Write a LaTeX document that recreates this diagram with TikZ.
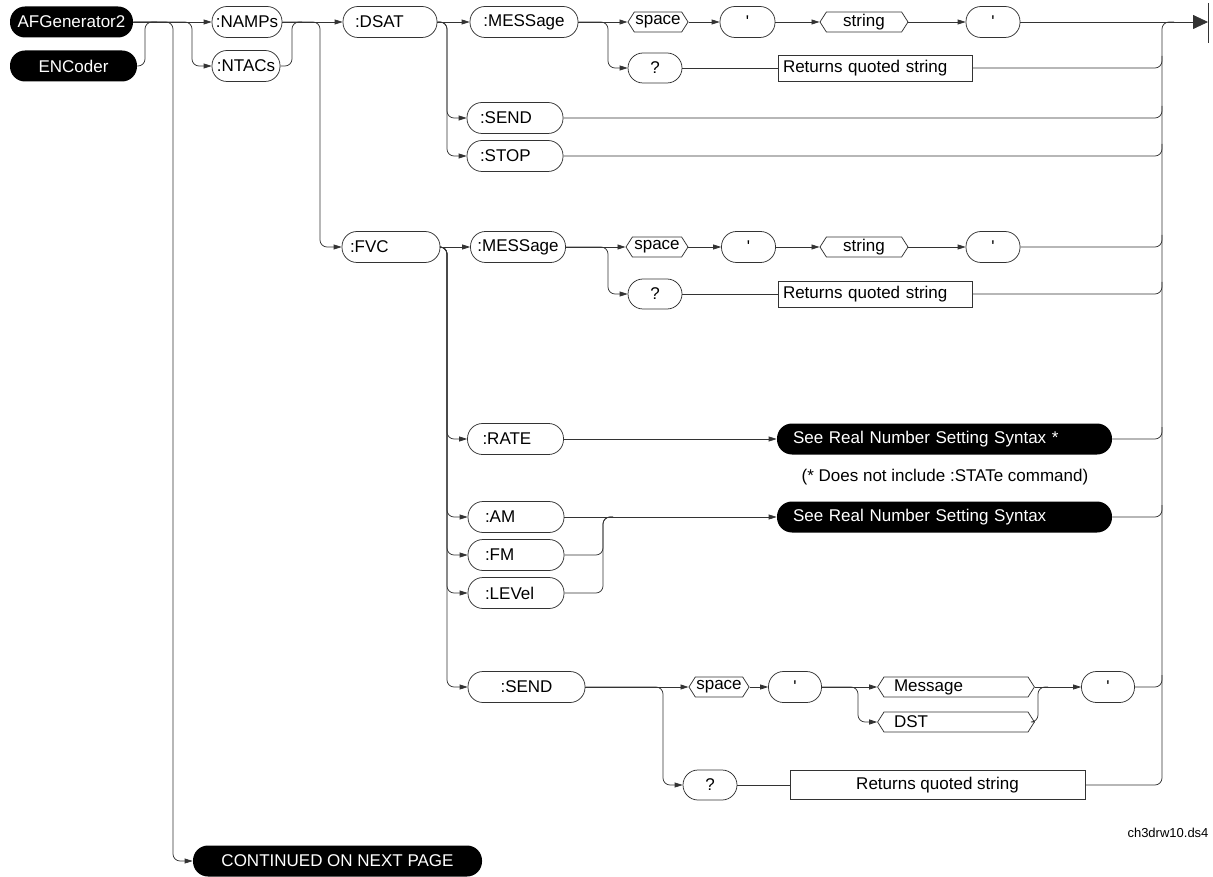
\documentclass[tikz,border=0pt]{standalone}
\usepackage{fontspec}
\newfontfamily\hp{Liberation Sans}
\usetikzlibrary{arrows.meta,shapes.symbols,calc}
\begin{document}
\begin{tikzpicture}[x=1pt,y=-1pt,
  font=\hp\fontsize{17}{19}\selectfont,
  line width=0.75pt,
  conn/.style={draw=black!80, line width=0.75pt, rounded corners=7pt},
  arr/.style={conn, -{Triangle[length=8pt,width=5pt]}},
  kw/.style={draw=black!80, line width=0.75pt, rounded corners=15pt, minimum height=31pt, inner ysep=0pt, inner xsep=4pt},
  kwl/.style={kw, text width=#1, align=left, inner xsep=12pt},
  term/.style={fill=black, text=white, rounded corners=15pt, minimum height=31pt, inner ysep=0pt, inner xsep=4pt},
  hex/.style={draw=black!80, line width=0.75pt, signal, signal to=west and east, signal pointer angle=115,
              minimum height=20pt, inner ysep=0pt, inner xsep=1pt},
  hexl/.style={hex, text width=#1, align=left, inner xsep=10pt},
  retbox/.style={draw=black!80, line width=0.75pt, minimum height=26pt, inner ysep=0pt}]
\useasboundingbox (0,0) rectangle (1213,877);

% ---- bus positions ----
\coordinate (bE) at (145,0);
\coordinate (bA) at (173,0);
\coordinate (bN) at (192,0);
\coordinate (bT) at (292,0);
\coordinate (bF) at (320,0);
\coordinate (bD) at (447,0);
\coordinate (bM) at (603,0);
\coordinate (bQ) at (608,0);
\coordinate (bS) at (663,0);
\coordinate (bX) at (858,0);
\coordinate (bY) at (1038,0);
\coordinate (col) at (1162,0);
\coordinate (endc) at (1208,22);
\coordinate (barT) at (1208,3);
\coordinate (barB) at (1208,43);

% ---- root keywords ----
\node[term, minimum width=123pt] (afg) at (71.5,22) {AFGenerator2};
\node[term, minimum width=127pt] (enc) at (73.5,66) {ENCoder};
\node[kw, minimum width=70pt, inner xsep=2pt] (namps) at (247,22) {:NAMPs};
\node[kw, minimum width=68pt, inner xsep=2pt] (ntacs) at (246,66) {:NTACs};
\node[term, minimum width=289pt] (cont) at (337.5,861) {CONTINUED ON NEXT PAGE};

% ---- DSAT subtree ----
\node[kwl=70pt] (dsat) at (390,22) {:DSAT};
\node[kw, minimum width=108pt] (msg1) at (524,22) {:MESSage};
\node[hex, minimum width=60pt] (sp1) at (658,22) {space};
\node[kw, minimum width=55pt] (q1) at (747.5,22) {'};
\node[hex, minimum width=88pt] (str1) at (864,22) {string};
\node[kw, minimum width=54pt] (q2) at (993,22) {'};
\node[kw, minimum width=54pt, minimum height=30pt] (qm1) at (655,68) {?};
\node[retbox, text width=184pt, align=left, inner xsep=5pt] (ret1) at (875,68) {Returns quoted string};
\node[kwl=70pt, inner xsep=13pt] (send1) at (515,118) {:SEND};
\node[kwl=70pt, inner xsep=13pt] (stop1) at (515,156) {:STOP};

% ---- FVC subtree ----
\node[kwl=82pt, inner xsep=8pt] (fvc) at (391,247) {:FVC};
\node[kw, minimum width=95pt] (msg2) at (518,247) {:MESSage};
\node[hex, minimum width=62pt] (sp2) at (657,247) {space};
\node[kw, minimum width=54pt] (q4) at (748.5,247) {'};
\node[hex, minimum width=88pt] (str2) at (864,247) {string};
\node[kw, minimum width=54pt] (q5) at (993,247) {'};
\node[kw, minimum width=54pt, minimum height=30pt] (qm2) at (655,294) {?};
\node[retbox, text width=184pt, align=left, inner xsep=5pt] (ret2) at (875,294) {Returns quoted string};

\node[kwl=66pt, inner xsep=15pt] (rate) at (515.5,439) {:RATE};
\node[term, text width=303pt, align=left, inner xsep=16pt] (rn1) at (944.5,439) {See Real Number Setting Syntax *};
\node (note) at (945,477) {(* Does not include :STATe command)};

\node[kwl=62pt, inner xsep=17pt] (am) at (516,517) {:AM};
\node[kwl=62pt, inner xsep=17pt] (fm) at (516,555) {:FM};
\node[kwl=62pt, inner xsep=17pt] (lev) at (516,593) {:LEVel};
\node[term, text width=303pt, align=left, inner xsep=16pt] (rn2) at (944.5,517) {See Real Number Setting Syntax};

\node[kw, minimum width=117pt] (send2) at (526.5,687) {:SEND};
\node[hex, minimum width=58pt] (sp3) at (719,687) {space};
\node[kw, minimum width=53pt] (q6) at (795,687) {'};
\node[hexl=124pt] (mess) at (956,687) {Message};
\node[hexl=124pt] (dst) at (956,722) {DST};
\node[kw, minimum width=53pt] (q7) at (1108,687) {'};
\node[kw, minimum width=54pt, minimum height=30pt] (qm3) at (710,785) {?};
\node[retbox, minimum width=295pt, minimum height=29pt] (ret3) at (937.5,785) {Returns quoted string};

\node[font=\hp\fontsize{13}{15}\selectfont] (code) at (1168,833) {ch3drw10.ds4};

% ---- root connectors ----
\draw[arr] (afg.east) -- (namps.west);
\draw[arr] (afg.east) -- (afg.east -| bN) -- (ntacs.west -| bN) -- (ntacs.west);
\draw[arr] (afg.east) -- (afg.east -| bA) -- (cont.west -| bA) -- (cont.west);
\draw[conn] (enc.east) -- (enc.east -| bE) -- (afg.east -| bE) -- ($(afg.east -| bE)+(12,0)$);
\draw[conn] (ntacs.east) -- (ntacs.east -| bT) -- (namps.east -| bT) -- ($(namps.east -| bT)+(10,0)$);
\draw[arr] (namps.east) -- (dsat.west);
\draw[arr] (namps.east) -- (namps.east -| bF) -- (fvc.west -| bF) -- (fvc.west);

% ---- DSAT connectors ----
\draw[arr] (dsat.east) -- (msg1.west);
\draw[arr] (dsat.east) -- (dsat.east -| bD) -- (send1.west -| bD) -- (send1.west);
\draw[arr] (dsat.east) -- (dsat.east -| bD) -- (stop1.west -| bD) -- (stop1.west);
\draw[arr] (msg1.east) -- (sp1.west);
\draw[arr] (msg1.east) -- (msg1.east -| bQ) -- (qm1.west -| bQ) -- (qm1.west);
\draw[arr] (sp1.east) -- (q1.west);
\draw[arr] (q1.east) -- (str1.west);
\draw[arr] (str1.east) -- (q2.west);
\draw[conn, -{Triangle[length=15pt,width=14pt]}] (q2.east) -- (endc);
\draw[conn] (barT) -- (barB);
\draw[conn] (qm1.east) -- (ret1.west);

% ---- FVC connectors ----
\draw[arr] (fvc.east) -- (msg2.west);
\foreach \n in {rate,am,fm,lev,send2}
  \draw[arr] (fvc.east) -- (fvc.east -| bD) -- (\n.west -| bD) -- (\n.west);
\draw[arr] (msg2.east) -- (sp2.west);
\draw[arr] (msg2.east) -- (msg2.east -| bQ) -- (qm2.west -| bQ) -- (qm2.west);
\draw[arr] (sp2.east) -- (q4.west);
\draw[arr] (q4.east) -- (str2.west);
\draw[arr] (str2.east) -- (q5.west);
\draw[conn] (qm2.east) -- (ret2.west);
\draw[arr] (rate.east) -- (rn1.west);
\draw[arr] (am.east) -- (rn2.west);
\draw[conn] (fm.east) -- (fm.east -| bM) -- (am.east -| bM) -- ($(am.east -| bM)+(10,0)$);
\draw[conn] (lev.east) -- (lev.east -| bM) -- (am.east -| bM) -- ($(am.east -| bM)+(10,0)$);
\draw[arr] (send2.east) -- (sp3.west);
\draw[arr] (send2.east) -- (send2.east -| bS) -- (qm3.west -| bS) -- (qm3.west);
\draw[arr] (sp3.east) -- (q6.west);
\draw[arr] (q6.east) -- (mess.west);
\draw[arr] (q6.east) -- (q6.east -| bX) -- (dst.west -| bX) -- (dst.west);
\draw[arr] (mess.east) -- (q7.west);
\draw[conn] (dst.east) -- (dst.east -| bY) -- (mess.east -| bY) -- ($(mess.east -| bY)+(10,0)$);
\draw[conn] (qm3.east) -- (ret3.west);

% ---- collector on the right ----
\draw[conn] (ret3.east) -- (ret3.east -| col) -- (q2.east -| col) -- ($(q2.east -| col)+(12,0)$);
\foreach \n in {ret1,send1,stop1,q5,ret2,rn1,rn2,q7}
  \draw[conn] (\n.east) -- (\n.east -| col) -- ($(\n.east -| col)+(0,-12)$);
\end{tikzpicture}
\end{document}
